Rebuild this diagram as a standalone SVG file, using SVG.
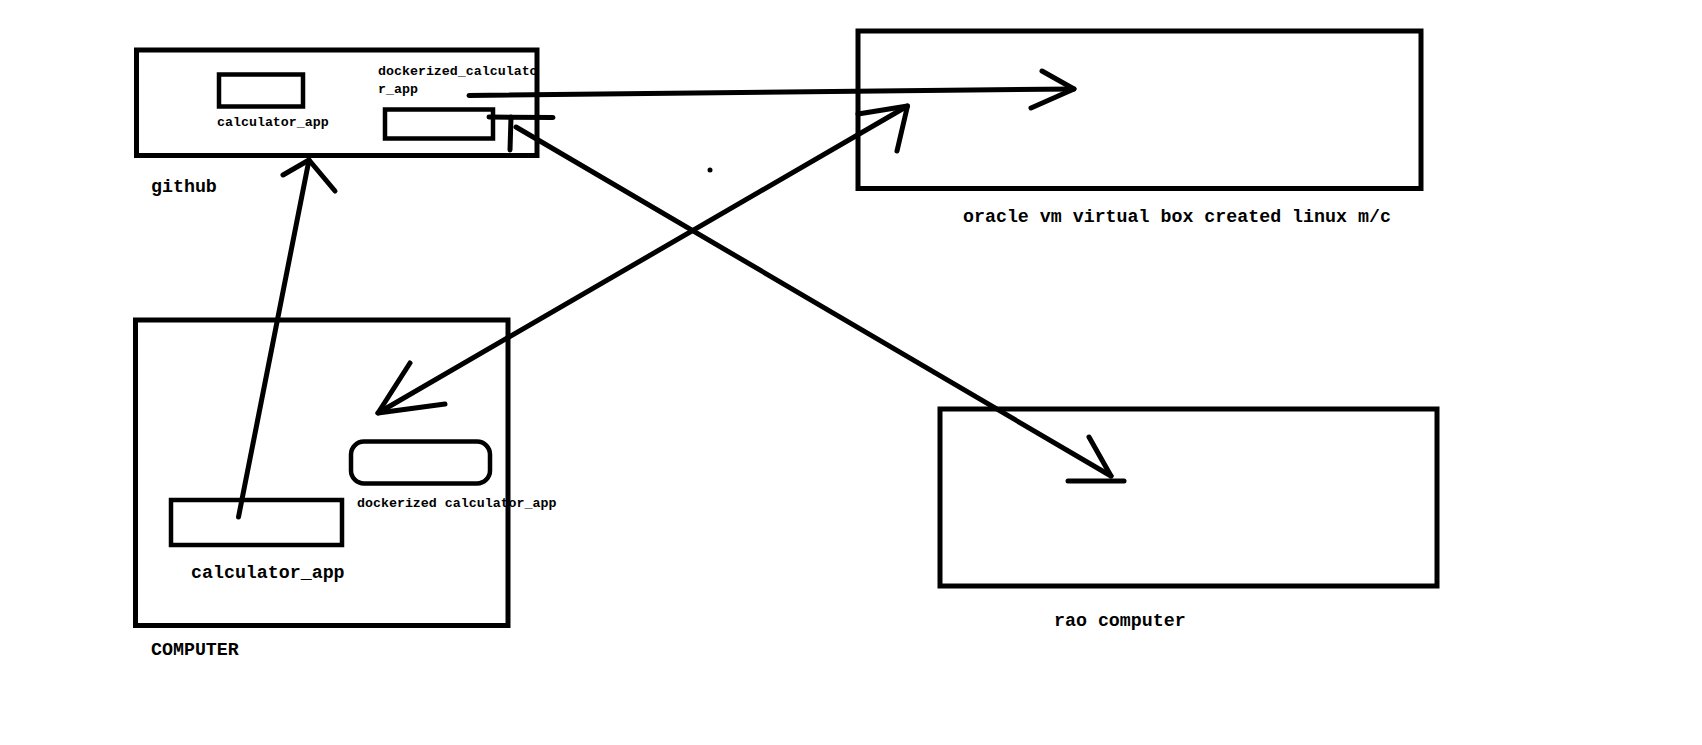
<svg xmlns="http://www.w3.org/2000/svg" width="1702" height="745" viewBox="0 0 1702 745">
<style>
.box{fill:none;stroke:#000;stroke-width:5}
.inner{fill:none;stroke:#000;stroke-width:4.5}
.ln{fill:none;stroke:#000;stroke-width:5;stroke-linecap:round;stroke-linejoin:round}
.s{font-family:"Liberation Mono","DejaVu Sans Mono",monospace;font-weight:bold;font-size:13.3px;fill:#000}
.l{font-family:"Liberation Mono","DejaVu Sans Mono",monospace;font-weight:bold;font-size:18.3px;fill:#000}
</style>
<rect width="1702" height="745" fill="#fff"/>
<g id="github">
<rect class="box" x="136.5" y="50" width="400.5" height="105.5"/>
<rect class="inner" x="219" y="74.5" width="84" height="32"/>
<text class="s" x="217" y="126">calculator_app</text>
<rect class="inner" x="385" y="109.5" width="108" height="29"/>
<text class="s" x="378" y="75">dockerized_calculato</text>
<text class="s" x="378" y="93">r_app</text>
<text class="l" x="151" y="192">github</text>
</g>
<g id="oracle">
<rect class="box" x="858" y="31" width="563" height="157.5"/>
<text class="l" x="963" y="222">oracle vm virtual box created linux m/c</text>
</g>
<g id="computer">
<rect class="box" x="135.5" y="320" width="372.5" height="305.5"/>
<rect class="inner" x="171" y="500" width="171" height="45"/>
<text class="l" x="191" y="578">calculator_app</text>
<rect class="inner" x="351" y="441.5" width="139" height="42" rx="13" ry="13"/>
<text class="s" x="357" y="507">dockerized calculator_app</text>
<text class="l" x="151" y="655">COMPUTER</text>
</g>
<g id="rao">
<rect class="box" x="940" y="409" width="497" height="177"/>
<text class="l" x="1054" y="626">rao computer</text>
</g>
<g id="connectors">
<path class="ln" d="M469 95.5 L1074 89"/>
<path class="ln" d="M1042 71 L1074 89 L1031 108"/>
<path class="ln" d="M238.5 517 L309 160"/>
<path class="ln" d="M283 175 L309 160 L335 191"/>
<path class="ln" d="M907.5 106 L378 413"/>
<path class="ln" d="M858 114 L907.5 106 L897 151"/>
<path class="ln" d="M410 363 L378 413 L445 404"/>
<path class="ln" d="M516 127 L1111 476"/>
<path class="ln" d="M1089 437 L1111 476"/>
<path class="ln" d="M1068 481 L1124 481"/>
<path class="ln" d="M489 117 L553 117.5"/>
<path class="ln" d="M511 117 L510 150"/>
<circle cx="710" cy="170" r="2.5" fill="#000"/>
</g>
</svg>
